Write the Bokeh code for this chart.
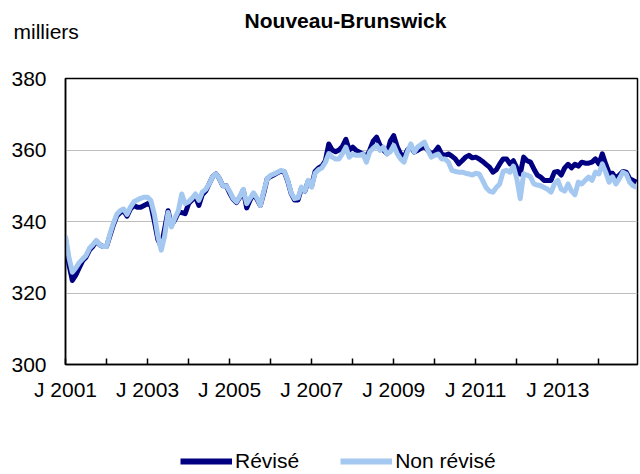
from bokeh.plotting import figure
from bokeh.layouts import column
from bokeh.models import FixedTicker, Legend, LegendItem, ColumnDataSource, Label
from bokeh.embed import file_html
from bokeh.resources import INLINE

title_text = "Nouveau-Brunswick"
unit_text = "milliers"
start_year = 2001

revise = [
    335, 328, 323.5, 325, 327, 329, 330, 332, 333, 334.5, 333.5, 333,
    333, 336, 339, 341.5, 342.5, 343, 341.5, 343.5, 344.5, 344, 344, 344.5,
    345, 344.5, 340, 335, 333, 338, 343, 339, 340.5, 342.5, 342.5, 342.2,
    345, 346, 347, 344.5, 347.5, 348.5, 350.5, 352.5, 353.3, 352, 350, 350,
    348, 346.3, 345.3, 346.8, 348.8, 343.8, 346, 347.8, 346.2, 344.5, 348, 352,
    352.6, 353.1, 353.6, 354.1, 353.8, 351.3, 347.8, 346, 346, 349.3, 348.5, 351.3,
    350, 354, 355, 355.5, 357, 361.7, 360, 359.5, 360, 361, 363, 360,
    360.8, 359.9, 359.4, 358.9, 358, 360, 362.5, 363.6, 361.3, 360, 359, 362.5,
    364, 361, 358.9, 358, 360, 360.8, 359.4, 359.9, 360.5, 361, 359.9, 358.9,
    359.5, 360.8, 358.9, 358.5, 358.9, 358.3, 357.5, 356.1, 357, 358, 358.5, 357.8,
    358, 357.5, 356.8, 356, 355.2, 353.8, 354.5, 356.1, 357.5, 357.5, 356.1, 357,
    355, 353.3, 358, 357, 356.6, 354.7, 353, 352.4, 351.5, 351.5, 351.5, 353.8,
    354, 353, 355, 356, 355, 356, 355.5, 356.6, 356.3, 356.3, 356.6, 357.5,
    356.1, 358.9, 356.1, 353.5, 353.5, 352, 353, 354, 353.8, 352, 351.5, 351,
]

non_revise = [
    336, 330, 325.8, 327, 328.5, 329.5, 330.5, 332.5, 333.5, 334.7, 333.5, 333,
    333, 336.5, 339.5, 342, 343, 343.5, 342, 344, 345.5, 346, 346.5, 346.8,
    346.8, 345.8, 342, 336, 332, 336, 342.5, 338.5, 341, 343, 347.7, 345,
    345.5, 346.5, 347.7, 345.9, 348.2, 349, 350.5, 352.5, 353.3, 352, 350, 350,
    348.5, 346.5, 345.5, 347, 349, 345, 346.5, 348, 346.5, 344.5, 348.5, 352,
    352.9, 353.3, 353.8, 354.3, 354, 351.5, 348, 346.4, 346.6, 349.6, 348.5, 351.5,
    349.6, 353.5, 354.5, 355, 356.5, 359, 358, 357.5, 357.5, 359, 360.8, 358,
    358.9, 358.5, 358.5, 358.9, 356.6, 359.5, 360.5, 361.3, 359.9, 360.8, 358.9, 359.5,
    361.3, 359, 357.5, 356.6, 359.5, 361.7, 359.4, 360.8, 361.5, 362.2, 359.9, 358,
    358.5, 358.9, 357.5, 357.5, 356.6, 354.3, 354, 353.8, 353.8, 353.5, 353.3, 353,
    353.5, 353.3, 351.5, 349.5, 348.5, 348.2, 349.5, 350.5, 354, 354.3, 353.8, 355.5,
    352, 346.4, 353.3, 353, 352.5, 350.5, 350.2, 350, 349.5, 349, 348.2, 350.5,
    351.5, 349, 348.5, 350.5, 348.5, 347.5, 351, 350.5, 351.5, 352.4, 351.5, 353.8,
    353.3, 356.1, 353.8, 351, 352.5, 350.5, 352, 353.8, 353.3, 351, 350, 349.6,
]

tick_years = list(range(2001, 2015))
label_years = [2001, 2003, 2005, 2007, 2009, 2011, 2013]
y_ticks = [300, 320, 340, 360, 380]
series_names = ["Révisé", "Non révisé"]

n = len(revise)
month_idx = list(range(n))
src = ColumnDataSource(dict(x=month_idx, rev=revise, nrev=non_revise))

FONT = "Liberation Sans"
FS = "21px"
DARK = "#000080"
LIGHT = "#A4C8EF"

W = 640
TOP_H = 50

# ---- top strip: title and unit ----
tf = figure(width=W, height=TOP_H, output_backend="svg", toolbar_location=None,
            x_range=(0, W), y_range=(0, TOP_H), min_border=0, frame_align=False)
tf.axis.visible = False
tf.grid.grid_line_color = None
tf.outline_line_color = None
tf.background_fill_color = "white"
tf.border_fill_color = "white"
tf.add_layout(Label(x=345, y=TOP_H - 20, text=title_text, text_font=FONT,
                    text_font_size=FS, text_font_style="bold",
                    text_align="center", text_baseline="middle", text_color="black"))
tf.add_layout(Label(x=13, y=TOP_H - 31, text=unit_text, text_font=FONT,
                    text_font_size=FS, text_align="left",
                    text_baseline="middle", text_color="black"))

# ---- main chart ----
p = figure(width=W, height=394, output_backend="svg", toolbar_location=None,
           x_range=(0, n - 1 + 0.3), y_range=(300, 380),
           min_border_left=65, min_border_right=3, min_border_top=28,
           min_border_bottom=80, frame_align=False)
p.background_fill_color = "white"
p.border_fill_color = "white"
p.outline_line_color = "black"
p.outline_line_width = 1.5

r1 = p.line("x", "rev", source=src, line_color=DARK, line_width=5, line_join="round")
r2 = p.line("x", "nrev", source=src, line_color=LIGHT, line_width=5, line_join="round")

xt = [(y - start_year) * 12 for y in tick_years]
p.xaxis.ticker = FixedTicker(ticks=xt)
p.xaxis.major_label_overrides = {
    (y - start_year) * 12: (f"J {y}" if y in label_years else "") for y in tick_years
}
p.xaxis.major_tick_in = 6
p.xaxis.major_tick_out = 0
p.xaxis.minor_tick_line_color = None
p.xaxis.axis_line_color = "black"
p.xaxis.axis_line_width = 1.5
p.xaxis.major_tick_line_color = "black"
p.xaxis.major_tick_line_width = 1.5
p.xaxis.major_label_text_font = FONT
p.xaxis.major_label_text_font_size = FS
p.xaxis.major_label_text_color = "black"
p.xaxis.major_label_standoff = 13
p.xgrid.grid_line_color = None

p.yaxis.ticker = FixedTicker(ticks=y_ticks)
p.yaxis.major_tick_in = 0
p.yaxis.major_tick_out = 0
p.yaxis.minor_tick_line_color = None
p.yaxis.axis_line_color = "black"
p.yaxis.axis_line_width = 1.5
p.yaxis.major_label_text_font = FONT
p.yaxis.major_label_text_font_size = FS
p.yaxis.major_label_text_color = "black"
p.yaxis.major_label_standoff = 19
p.ygrid.grid_line_color = "#BEBEBE"
p.ygrid.grid_line_width = 1

# ---- legend strip ----
lf = figure(width=W, height=30, output_backend="svg", toolbar_location=None,
            x_range=(0, 1), y_range=(0, 1), min_border=0, frame_align=False)
lf.axis.visible = False
lf.grid.grid_line_color = None
lf.outline_line_color = None
lf.background_fill_color = "white"
lf.border_fill_color = "white"
l1 = lf.line([5, 6], [5, 6], line_color=DARK, line_width=6)
l2 = lf.line([5, 6], [5, 6], line_color=LIGHT, line_width=6)
legend = Legend(items=[LegendItem(label=series_names[0], renderers=[l1]),
                       LegendItem(label=series_names[1], renderers=[l2])],
                location=(180, 1), orientation="horizontal",
                glyph_width=52, glyph_height=22, label_standoff=3, spacing=41,
                padding=0, margin=0, border_line_color=None,
                background_fill_alpha=0,
                label_text_font=FONT, label_text_font_size=FS,
                label_text_color="black")
lf.add_layout(legend)

open("out.html", "w").write(file_html(column(tf, p, lf, spacing=0), INLINE))
